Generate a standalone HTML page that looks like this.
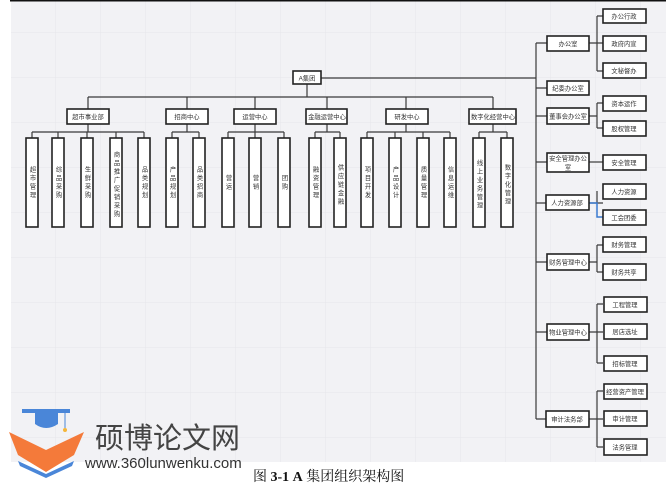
<!DOCTYPE html>
<html><head><meta charset="utf-8"><style>
body{margin:0;width:666px;height:500px;background:#fff;overflow:hidden;position:relative;font-family:"Liberation Sans","Noto Sans CJK SC",sans-serif}
svg{position:absolute;left:0;top:0}
</style></head><body>
<svg width="666" height="500" xmlns="http://www.w3.org/2000/svg" font-family="Liberation Sans, Noto Sans CJK SC, sans-serif">
<defs><pattern id="g" width="45" height="45" patternUnits="userSpaceOnUse" x="11" y="-12"><path d="M45 0V45M0 45H45" stroke="#e6e6ea" stroke-width="1" fill="none"/></pattern></defs>
<rect x="11" y="0" width="655" height="462" fill="#f2f2f5"/>
<rect x="11" y="0" width="655" height="462" fill="url(#g)"/>
<rect x="10" y="0" width="656" height="1.5" fill="#111"/>
<g stroke="#3a3a3a" stroke-width="1.2" fill="none">
<path d="M307 84V97M88 97H493M88 97V109M187 97V109M255 97V109M327 97V109M406 97V109M493 97V109"/>
<path d="M321 78H536M536 43V419"/>
<path d="M88 124V132M32 132H144M32 132V138M58 132V138M87 132V138M116 132V138M144 132V138"/>
<path d="M187 124V132M172 132H199M172 132V138M199 132V138"/>
<path d="M255 124V132M228 132H284M228 132V138M255 132V138M284 132V138"/>
<path d="M327 124V132M315 132H340M315 132V138M340 132V138"/>
<path d="M406 124V132M367 132H450M367 132V138M395 132V138M423 132V138M450 132V138"/>
<path d="M493 124V132M479 132H507M479 132V138M507 132V138"/>
<path d="M536 43H547M536 88H547M536 116H547M536 162H547M536 203H547M536 262H547M536 332H547M536 419H547"/>
<path d="M589 43H603M597 16V71M597 16H603M597 71H603"/>
<path d="M589 116H597M597 103V128M597 103H603M597 128H603"/>
<path d="M589 162H603"/>
<path d="M589 203H597M597 191V203H603"/>
<path d="M589 262H597M597 245V272M597 245H603M597 272H603"/>
<path d="M589 332H603M597 304V363M597 304H603M597 363H603"/>
<path d="M589 419H603M597 391V447M597 391H603M597 447H603"/>
</g>
<path d="M589 203H597V217H603" stroke="#3b7bd0" stroke-width="1.5" fill="none"/>
<g fill="#fff" stroke="#222" stroke-width="1.6">
<rect x="293" y="71" width="28" height="13"/>
<rect x="67" y="109" width="42" height="15"/><rect x="166" y="109" width="42" height="15"/><rect x="234" y="109" width="42" height="15"/><rect x="306" y="109" width="41" height="15"/><rect x="386" y="109" width="42" height="15"/><rect x="469" y="109" width="47" height="15"/>
<g>
<rect x="26" y="138" width="12" height="89"/><rect x="52" y="138" width="12" height="89"/><rect x="81" y="138" width="12" height="89"/><rect x="110" y="138" width="12" height="89"/><rect x="138" y="138" width="12" height="89"/>
<rect x="166" y="138" width="12" height="89"/><rect x="193" y="138" width="12" height="89"/>
<rect x="222" y="138" width="12" height="89"/><rect x="249" y="138" width="12" height="89"/><rect x="278" y="138" width="12" height="89"/>
<rect x="309" y="138" width="12" height="89"/><rect x="334" y="138" width="12" height="89"/>
<rect x="361" y="138" width="12" height="89"/><rect x="389" y="138" width="12" height="89"/><rect x="417" y="138" width="12" height="89"/><rect x="444" y="138" width="12" height="89"/>
<rect x="473" y="138" width="12" height="89"/><rect x="501" y="138" width="12" height="89"/>
</g>
<rect x="547" y="36" width="42" height="15"/><rect x="547" y="81" width="42" height="14"/><rect x="547" y="108" width="42" height="16"/><rect x="547" y="153" width="42" height="19"/><rect x="546" y="195" width="43" height="15"/><rect x="547" y="254" width="42" height="16"/><rect x="547" y="324" width="42" height="16"/><rect x="546" y="411" width="43" height="16"/>
<rect x="603" y="9" width="43" height="14"/><rect x="603" y="36" width="43" height="15"/><rect x="603" y="63" width="43" height="15"/>
<rect x="603" y="96" width="43" height="15"/><rect x="603" y="121" width="43" height="15"/>
<rect x="603" y="155" width="43" height="15"/>
<rect x="603" y="184" width="43" height="15"/><rect x="603" y="210" width="43" height="15"/>
<rect x="603" y="237" width="43" height="15"/><rect x="603" y="264" width="43" height="16"/>
<rect x="604" y="297" width="43" height="15"/><rect x="604" y="324" width="43" height="15"/><rect x="604" y="356" width="43" height="15"/>
<rect x="604" y="384" width="43" height="15"/><rect x="604" y="411" width="43" height="15"/><rect x="604" y="439" width="43" height="16"/>
</g>
<g font-size="6.3" fill="#333" text-anchor="middle">
<text x="307" y="80.3">A集团</text>
<text x="88" y="118.8">超市事业部</text><text x="187" y="118.8">招商中心</text><text x="255" y="118.8">运营中心</text><text x="327" y="118.8">金融运营中心</text><text x="407" y="118.8">研发中心</text><text x="493" y="118.8">数字化经营中心</text>
<text x="568" y="45.8">办公室</text><text x="568" y="90.5">纪委办公室</text><text x="568" y="118.5">董事会办公室</text><text x="568" y="160.5">安全管理办公</text><text x="568" y="169.5">室</text><text x="567" y="204.8">人力资源部</text><text x="568" y="264.5">财务管理中心</text><text x="568" y="334.5">物业管理中心</text><text x="567" y="421.5">审计法务部</text>
<text x="624" y="18.5">办公行政</text><text x="624" y="45.8">政府内宣</text><text x="624" y="72.8">文秘督办</text>
<text x="624" y="105.8">资本运作</text><text x="624" y="130.8">股权管理</text><text x="624" y="164.8">安全管理</text>
<text x="624" y="193.8">人力资源</text><text x="624" y="219.8">工会团委</text>
<text x="624" y="246.8">财务管理</text><text x="624" y="274.5">财务共享</text>
<text x="625" y="306.8">工程管理</text><text x="625" y="333.8">居店选址</text><text x="625" y="365.8">招标管理</text>
<text x="625" y="393.8">经营资产管理</text><text x="625" y="420.8">审计管理</text><text x="625" y="449.5">法务管理</text>
</g>
<g font-size="6.3" fill="#333" text-anchor="middle" style="writing-mode:vertical-rl;letter-spacing:2.2px">
<text x="32" y="183">超市管理</text><text x="58" y="183">综品采购</text><text x="87" y="183">生鲜采购</text><text x="116" y="185">商品推广促销采购</text><text x="144" y="183">品类规划</text>
<text x="172" y="183">产品规划</text><text x="199" y="183">品类招商</text>
<text x="228" y="183">营运</text><text x="255" y="183">营销</text><text x="284" y="183">团购</text>
<text x="315" y="183">融资管理</text><text x="340" y="185">供应链金融</text>
<text x="367" y="183">项目开发</text><text x="395" y="183">产品设计</text><text x="423" y="183">质量管理</text><text x="450" y="183">信息运维</text>
<text x="479" y="185">线上业务管理</text><text x="507" y="185">数字化管理</text>
</g>
<path d="M22 409H70L46 415Z" fill="#4a86d8"/>
<rect x="22" y="409" width="48" height="4" fill="#4a86d8"/>
<path d="M35 413H58V424Q46 432 35 424Z" fill="#4a86d8"/>
<path d="M65 412V428" stroke="#4a86d8" stroke-width="1"/>
<circle cx="65" cy="430" r="2" fill="#f4b63a"/>
<path d="M9 432L46 450L84 432L74 455L46 472L18 455Z" fill="#f47a3a"/>
<path d="M18 461L46 474L74 461L72 466L46 478L20 466Z" fill="#4a86d8"/>
<text x="95" y="448" font-size="29" fill="#444" font-family="Noto Sans CJK SC, sans-serif">硕博论文网</text>
<text x="85" y="468" font-size="15" fill="#333">www.360lunwenku.com</text>
<text x="253" y="481" font-size="14" fill="#111" font-family="Liberation Serif, Noto Serif CJK SC, serif">图 <tspan font-weight="bold">3-1</tspan>  <tspan font-weight="bold">A</tspan> 集团组织架构图</text>
</svg>
</body></html>
